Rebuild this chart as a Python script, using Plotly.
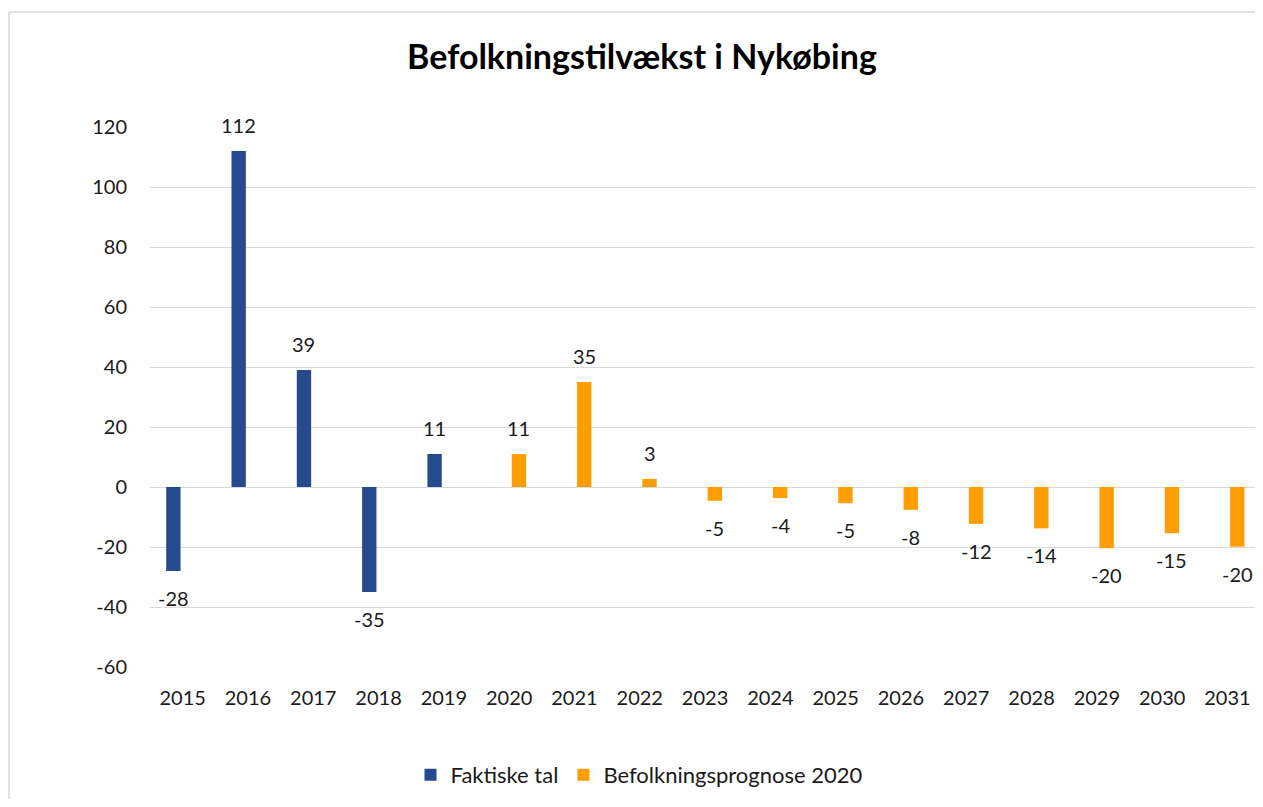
import plotly.graph_objects as go

years_actual = ["2015", "2016", "2017", "2018", "2019"]
values_actual = [-28, 112, 39, -35, 11]

years_forecast = ["2020", "2021", "2022", "2023", "2024", "2025", "2026",
                  "2027", "2028", "2029", "2030", "2031"]
values_forecast = [11, 35, 2.7, -4.6, -3.7, -5.4, -7.6, -12.3, -13.8, -20.4, -15.4, -19.9]

all_years = years_actual + years_forecast
y_ticks = [-60, -40, -20, 0, 20, 40, 60, 80, 100, 120]
y_tick_text = [str(v) for v in y_ticks]

FONT = "Lato"
TXT = "#1a1a1a"
BLUE = "#264A8C"
ORANGE = "#FF9E00"
FRAME = "#D9D9D9"

# page has an 8px body margin; the figure is sized/offset to compensate
W, H = 1247, 791
L, R, T, B = 142, 0, 119, 132
PW, PH = W - L - R, H - T - B

BAR_W = 0.22
OFF_A = -0.142   # clustered position of first series within a category
OFF_F = 0.150    # clustered position of second series within a category
X_MAX = -0.5 + PW / 65.3

fig = go.Figure()
fig.add_trace(go.Bar(
    x=years_actual, y=values_actual, name="Faktiske tal",
    marker=dict(color=BLUE, line=dict(width=0)),
    width=BAR_W, offset=OFF_A - BAR_W / 2,
))
fig.add_trace(go.Bar(
    x=years_forecast, y=values_forecast, name="Befolkningsprognose 2020",
    marker=dict(color=ORANGE, line=dict(width=0)),
    width=BAR_W, offset=OFF_F - BAR_W / 2,
))

annotations = []
for xs, vs, off in ((years_actual, values_actual, OFF_A),
                    (years_forecast, values_forecast, OFF_F)):
    for xv, yv in zip(xs, vs):
        annotations.append(dict(
            x=all_years.index(xv) + off, y=yv, xref="x", yref="y",
            text=f"{round(yv):d}", showarrow=False,
            yshift=26 if yv >= 0 else -27, yanchor="middle", xanchor="center",
            font=dict(family=FONT, size=20, color=TXT),
        ))

fx0 = (9 - 150) / PW
fy1 = 1 + (127 - 12) / PH

fig.update_layout(
    width=W, height=H,
    margin=dict(l=L, r=R, t=T, b=B),
    paper_bgcolor="white", plot_bgcolor="white",
    barmode="overlay",
    title=dict(text="<b>Befolkningstilvækst i Nykøbing</b>",
               x=(642 - 8) / W, xanchor="center",
               y=1 - 49 / H, yanchor="middle",
               font=dict(family=FONT, size=34, color="#000000")),
    font=dict(family=FONT, size=20, color=TXT),
    xaxis=dict(type="category", categoryorder="array", categoryarray=all_years,
               range=[-0.5, X_MAX],
               showgrid=False, showline=False, ticks="",
               tickfont=dict(size=20, color=TXT), ticklabelstandoff=17),
    yaxis=dict(range=[-60, 120], tickvals=y_ticks, ticktext=y_tick_text,
               showgrid=True, gridcolor=FRAME,
               gridwidth=1.3, zeroline=True, zerolinecolor=FRAME, zerolinewidth=1.3,
               showline=False, ticks="", tickfont=dict(size=20, color=TXT),
               ticklabelstandoff=22),
    legend=dict(orientation="h", x=(639 - 150) / PW, xanchor="center",
                y=-(775 - 667) / PH, yanchor="middle",
                font=dict(size=22, color=TXT), itemwidth=30,
                traceorder="normal"),
    showlegend=True,
    annotations=annotations,
    shapes=[
        dict(type="line", xref="paper", yref="paper", x0=fx0, x1=1.0, y0=fy1, y1=fy1,
             line=dict(color=FRAME, width=1.5), layer="below"),
        dict(type="line", xref="paper", yref="paper", x0=fx0, x1=fx0, y0=-0.3, y1=fy1,
             line=dict(color=FRAME, width=1.5), layer="below"),
    ],
)

fig.write_html("out.html")
